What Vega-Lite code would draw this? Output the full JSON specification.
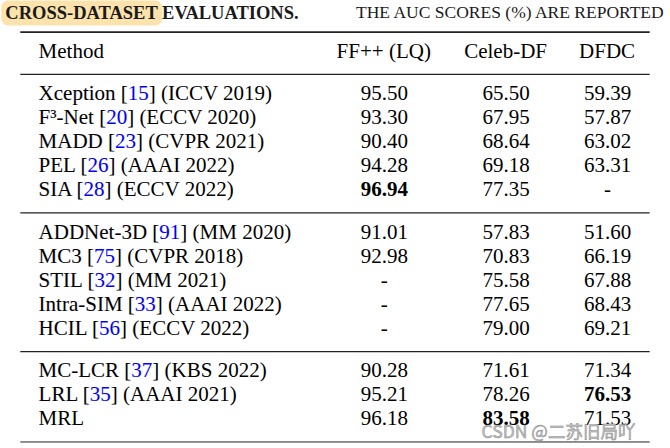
{
  "$schema": "https://vega.github.io/schema/vega-lite/v6.json",
  "width": 670,
  "height": 448,
  "padding": 0,
  "autosize": {"type": "fit", "contains": "padding"},
  "background": "white",
  "config": {"view": {"stroke": null}, "axis": {"disable": true}},
  "datasets": {
    "methods": [
      {"method": "header", "label": "Method", "labelToRef": "", "labelBeforeRef": ""},
      {"method": "Xception", "label": "Xception [15] (ICCV 2019)", "labelToRef": "Xception [15", "labelBeforeRef": "Xception ["},
      {"method": "F³-Net", "label": "F³-Net [20] (ECCV 2020)", "labelToRef": "F³-Net [20", "labelBeforeRef": "F³-Net ["},
      {"method": "MADD", "label": "MADD [23] (CVPR 2021)", "labelToRef": "MADD [23", "labelBeforeRef": "MADD ["},
      {"method": "PEL", "label": "PEL [26] (AAAI 2022)", "labelToRef": "PEL [26", "labelBeforeRef": "PEL ["},
      {"method": "SIA", "label": "SIA [28] (ECCV 2022)", "labelToRef": "SIA [28", "labelBeforeRef": "SIA ["},
      {"method": "ADDNet-3D", "label": "ADDNet-3D [91] (MM 2020)", "labelToRef": "ADDNet-3D [91", "labelBeforeRef": "ADDNet-3D ["},
      {"method": "MC3", "label": "MC3 [75] (CVPR 2018)", "labelToRef": "MC3 [75", "labelBeforeRef": "MC3 ["},
      {"method": "STIL", "label": "STIL [32] (MM 2021)", "labelToRef": "STIL [32", "labelBeforeRef": "STIL ["},
      {"method": "Intra-SIM", "label": "Intra-SIM [33] (AAAI 2022)", "labelToRef": "Intra-SIM [33", "labelBeforeRef": "Intra-SIM ["},
      {"method": "HCIL", "label": "HCIL [56] (ECCV 2022)", "labelToRef": "HCIL [56", "labelBeforeRef": "HCIL ["},
      {"method": "MC-LCR", "label": "MC-LCR [37] (KBS 2022)", "labelToRef": "MC-LCR [37", "labelBeforeRef": "MC-LCR ["},
      {"method": "LRL", "label": "LRL [35] (AAAI 2021)", "labelToRef": "LRL [35", "labelBeforeRef": "LRL ["},
      {"method": "MRL", "label": "MRL", "labelToRef": "", "labelBeforeRef": ""}
    ],
    "scores": [
      {"method": "Xception", "dataset": "FF++ (LQ)", "auc": 95.50, "best": false},
      {"method": "Xception", "dataset": "Celeb-DF", "auc": 65.50, "best": false},
      {"method": "Xception", "dataset": "DFDC", "auc": 59.39, "best": false},
      {"method": "F³-Net", "dataset": "FF++ (LQ)", "auc": 93.30, "best": false},
      {"method": "F³-Net", "dataset": "Celeb-DF", "auc": 67.95, "best": false},
      {"method": "F³-Net", "dataset": "DFDC", "auc": 57.87, "best": false},
      {"method": "MADD", "dataset": "FF++ (LQ)", "auc": 90.40, "best": false},
      {"method": "MADD", "dataset": "Celeb-DF", "auc": 68.64, "best": false},
      {"method": "MADD", "dataset": "DFDC", "auc": 63.02, "best": false},
      {"method": "PEL", "dataset": "FF++ (LQ)", "auc": 94.28, "best": false},
      {"method": "PEL", "dataset": "Celeb-DF", "auc": 69.18, "best": false},
      {"method": "PEL", "dataset": "DFDC", "auc": 63.31, "best": false},
      {"method": "SIA", "dataset": "FF++ (LQ)", "auc": 96.94, "best": true},
      {"method": "SIA", "dataset": "Celeb-DF", "auc": 77.35, "best": false},
      {"method": "SIA", "dataset": "DFDC", "auc": null, "best": false},
      {"method": "ADDNet-3D", "dataset": "FF++ (LQ)", "auc": 91.01, "best": false},
      {"method": "ADDNet-3D", "dataset": "Celeb-DF", "auc": 57.83, "best": false},
      {"method": "ADDNet-3D", "dataset": "DFDC", "auc": 51.60, "best": false},
      {"method": "MC3", "dataset": "FF++ (LQ)", "auc": 92.98, "best": false},
      {"method": "MC3", "dataset": "Celeb-DF", "auc": 70.83, "best": false},
      {"method": "MC3", "dataset": "DFDC", "auc": 66.19, "best": false},
      {"method": "STIL", "dataset": "FF++ (LQ)", "auc": null, "best": false},
      {"method": "STIL", "dataset": "Celeb-DF", "auc": 75.58, "best": false},
      {"method": "STIL", "dataset": "DFDC", "auc": 67.88, "best": false},
      {"method": "Intra-SIM", "dataset": "FF++ (LQ)", "auc": null, "best": false},
      {"method": "Intra-SIM", "dataset": "Celeb-DF", "auc": 77.65, "best": false},
      {"method": "Intra-SIM", "dataset": "DFDC", "auc": 68.43, "best": false},
      {"method": "HCIL", "dataset": "FF++ (LQ)", "auc": null, "best": false},
      {"method": "HCIL", "dataset": "Celeb-DF", "auc": 79.00, "best": false},
      {"method": "HCIL", "dataset": "DFDC", "auc": 69.21, "best": false},
      {"method": "MC-LCR", "dataset": "FF++ (LQ)", "auc": 90.28, "best": false},
      {"method": "MC-LCR", "dataset": "Celeb-DF", "auc": 71.61, "best": false},
      {"method": "MC-LCR", "dataset": "DFDC", "auc": 71.34, "best": false},
      {"method": "LRL", "dataset": "FF++ (LQ)", "auc": 95.21, "best": false},
      {"method": "LRL", "dataset": "Celeb-DF", "auc": 78.26, "best": false},
      {"method": "LRL", "dataset": "DFDC", "auc": 76.53, "best": true},
      {"method": "MRL", "dataset": "FF++ (LQ)", "auc": 96.18, "best": false},
      {"method": "MRL", "dataset": "Celeb-DF", "auc": 83.58, "best": true},
      {"method": "MRL", "dataset": "DFDC", "auc": 71.53, "best": false}
    ],
    "columns": [
      {"dataset": "FF++ (LQ)"},
      {"dataset": "Celeb-DF"},
      {"dataset": "DFDC"}
    ],
    "rules": [
      {"rule": "toprule", "kind": "toprule"},
      {"rule": "midrule-0", "kind": "midrule"},
      {"rule": "midrule-1", "kind": "midrule"},
      {"rule": "midrule-2", "kind": "midrule"},
      {"rule": "bottomrule", "kind": "bottomrule"}
    ]
  },
  "layer": [
    {
      "data": {"values": [{"part": "highlight"}]},
      "mark": {"type": "rect", "color": "#fce3ab", "cornerRadius": 7, "xOffset": -19, "x2Offset": 20, "yOffset": -7.5, "y2Offset": 5.5},
      "encoding": {
        "x": {"datum": "L", "type": "nominal", "axis": null,
          "scale": {"type": "point", "padding": 1.09, "domain": ["L", "Method", "_2", "_3", "_4", "_5", "_6", "_7", "_8", "_9", "_10", "_11", "_12", "_13", "_14", "_15", "_16", "_17", "FF++ (LQ)", "_19", "_20", "_21", "_22", "_23", "Celeb-DF", "_25", "_26", "_27", "_28", "DFDC", "_30", "R"]}},
        "x2": {"datum": "_6"},
        "y": {"datum": "_0", "type": "nominal", "axis": null,
          "scale": {"type": "point", "padding": 1.605, "domain": ["_0", "title", "_2", "_3", "toprule", "_5", "_6", "header", "_8", "_9", "_10", "midrule-0", "_12", "_13", "Xception", "_15", "_16", "_17", "F³-Net", "_19", "_20", "_21", "MADD", "_23", "_24", "_25", "PEL", "_27", "_28", "_29", "SIA", "_31", "_32", "_33", "midrule-1", "_35", "_36", "ADDNet-3D", "_38", "_39", "_40", "MC3", "_42", "_43", "_44", "STIL", "_46", "_47", "_48", "Intra-SIM", "_50", "_51", "_52", "HCIL", "_54", "_55", "_56", "midrule-2", "_58", "_59", "MC-LCR", "_61", "_62", "_63", "LRL", "_65", "_66", "_67", "MRL", "_69", "_70", "watermark", "bottomrule"]}},
        "y2": {"datum": "_2"}
      }
    },
    {
      "data": {"values": [{"title": "CROSS-DATASET EVALUATIONS."}]},
      "mark": {"type": "text", "align": "left", "baseline": "middle", "font": "Liberation Serif", "fontSize": 18.5, "fontWeight": "bold", "color": "#1a1a1a", "dx": -15, "dy": -1},
      "encoding": {
        "x": {"datum": "L", "type": "nominal"},
        "y": {"datum": "title", "type": "nominal"},
        "text": {"field": "title"}
      }
    },
    {
      "data": {"values": [{"title": "THE AUC SCORES (%) ARE REPORTED"}]},
      "mark": {"type": "text", "align": "right", "baseline": "middle", "font": "Liberation Serif", "fontSize": 17.5, "color": "#1a1a1a", "dx": 14, "dy": -1},
      "encoding": {
        "x": {"datum": "R", "type": "nominal"},
        "y": {"datum": "title", "type": "nominal"},
        "text": {"field": "title"}
      }
    },
    {
      "data": {"name": "rules"},
      "mark": {"type": "rule", "color": "#222222"},
      "encoding": {
        "x": {"datum": "L", "type": "nominal"},
        "x2": {"datum": "R"},
        "y": {"field": "rule", "type": "nominal"},
        "strokeWidth": {"field": "kind", "type": "nominal", "legend": null,
          "scale": {"domain": ["toprule", "midrule", "bottomrule"], "range": [1.6, 1.0, 1.6]}}
      }
    },
    {
      "data": {"name": "methods"},
      "mark": {"type": "text", "align": "left", "baseline": "middle", "font": "Liberation Serif", "fontSize": 21, "color": "#000000", "dx": -2, "dy": 1.5},
      "encoding": {
        "x": {"datum": "Method", "type": "nominal"},
        "y": {"field": "method", "type": "nominal"},
        "text": {"field": "label"}
      }
    },
    {
      "data": {"name": "methods"},
      "mark": {"type": "text", "align": "left", "baseline": "middle", "font": "Liberation Serif", "fontSize": 21, "fill": "#ffffff", "stroke": "#ffffff", "strokeWidth": 1, "dx": -2, "dy": 1.5},
      "encoding": {
        "x": {"datum": "Method", "type": "nominal"},
        "y": {"field": "method", "type": "nominal"},
        "text": {"field": "labelToRef"}
      }
    },
    {
      "data": {"name": "methods"},
      "mark": {"type": "text", "align": "left", "baseline": "middle", "font": "Liberation Serif", "fontSize": 21, "color": "#0000ff", "dx": -2, "dy": 1.5},
      "encoding": {
        "x": {"datum": "Method", "type": "nominal"},
        "y": {"field": "method", "type": "nominal"},
        "text": {"field": "labelToRef"}
      }
    },
    {
      "data": {"name": "methods"},
      "mark": {"type": "text", "align": "left", "baseline": "middle", "font": "Liberation Serif", "fontSize": 21, "fill": "#ffffff", "stroke": "#ffffff", "strokeWidth": 1, "dx": -2, "dy": 1.5},
      "encoding": {
        "x": {"datum": "Method", "type": "nominal"},
        "y": {"field": "method", "type": "nominal"},
        "text": {"field": "labelBeforeRef"}
      }
    },
    {
      "data": {"name": "methods"},
      "mark": {"type": "text", "align": "left", "baseline": "middle", "font": "Liberation Serif", "fontSize": 21, "color": "#000000", "dx": -2, "dy": 1.5},
      "encoding": {
        "x": {"datum": "Method", "type": "nominal"},
        "y": {"field": "method", "type": "nominal"},
        "text": {"field": "labelBeforeRef"}
      }
    },
    {
      "data": {"name": "columns"},
      "mark": {"type": "text", "align": "center", "baseline": "middle", "font": "Liberation Serif", "fontSize": 21, "color": "#000000", "dx": -2, "dy": 1.5},
      "encoding": {
        "x": {"field": "dataset", "type": "nominal"},
        "y": {"datum": "header", "type": "nominal"},
        "text": {"field": "dataset"}
      }
    },
    {
      "data": {"name": "scores"},
      "transform": [{"filter": "!datum.best"}],
      "mark": {"type": "text", "align": "center", "baseline": "middle", "font": "Liberation Serif", "fontSize": 21, "color": "#000000", "dx": -1.5, "dy": 1.5},
      "encoding": {
        "x": {"field": "dataset", "type": "nominal"},
        "y": {"field": "method", "type": "nominal"},
        "text": {"condition": {"test": "datum.auc === null", "value": "-"}, "field": "auc", "type": "quantitative", "format": ".2f"}
      }
    },
    {
      "data": {"name": "scores"},
      "transform": [{"filter": "datum.best"}],
      "mark": {"type": "text", "align": "center", "baseline": "middle", "font": "Liberation Serif", "fontSize": 21, "fontWeight": "bold", "color": "#000000", "dx": -1.5, "dy": 1.5},
      "encoding": {
        "x": {"field": "dataset", "type": "nominal"},
        "y": {"field": "method", "type": "nominal"},
        "text": {"field": "auc", "type": "quantitative", "format": ".2f"}
      }
    },
    {
      "data": {"values": [{"mark": "CSDN @二苏旧局吖"}]},
      "mark": {"type": "text", "align": "right", "baseline": "middle", "font": "Noto Sans CJK SC", "fontSize": 17.5, "color": "#c4c4c4", "stroke": "#8c8c8c", "strokeWidth": 0.5, "dx": 6, "dy": -3},
      "encoding": {
        "x": {"datum": "_30", "type": "nominal"},
        "y": {"datum": "watermark", "type": "nominal"},
        "text": {"field": "mark"}
      }
    }
  ]
}
